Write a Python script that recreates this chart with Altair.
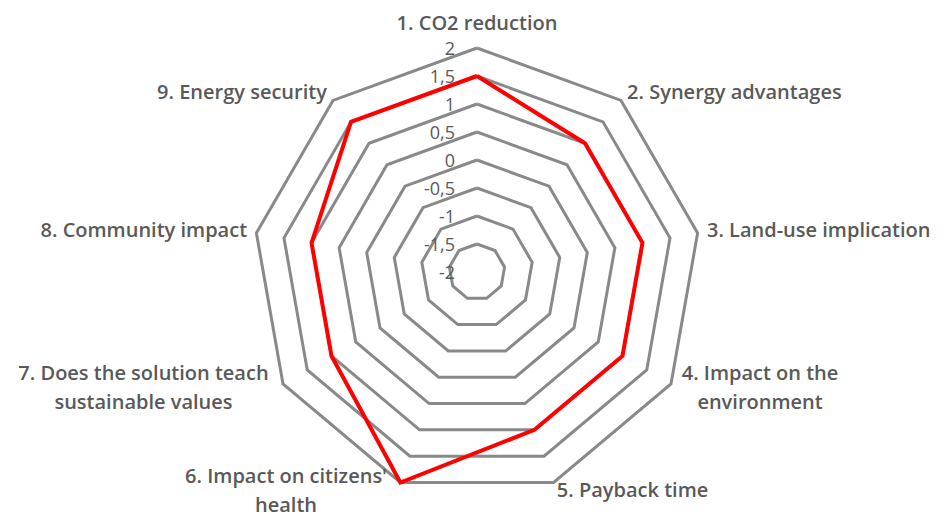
import altair as alt
import pandas as pd

# ---------------- data ----------------
categories = [
    "1. CO2 reduction", "2. Synergy advantages", "3. Land-use implication",
    "4. Impact on the environment", "5. Payback time",
    "6. Impact on citizens' health", "7. Does the solution teach sustainable values",
    "8. Community impact", "9. Energy security",
]
label_lines = [
    ["1. CO2 reduction"],
    ["2. Synergy advantages"],
    ["3. Land-use implication"],
    ["4. Impact on the", "environment"],
    ["5. Payback time"],
    ["6. Impact on citizens'", "health"],
    ["7. Does the solution teach", "sustainable values"],
    ["8. Community impact"],
    ["9. Energy security"],
]
values = [1.5, 1, 1, 1, 1, 2, 1, 1, 1.5]
levels = [-2, -1.5, -1, -0.5, 0, 0.5, 1, 1.5, 2]
level_labels = ["-2", "-1,5", "-1", "-0,5", "0", "0,5", "1", "1,5", "2"]

# ---------------- layout constants ----------------
N = len(categories)
VMIN, VMAX = -2.0, 2.0
W, H = 928, 506          # plot area (page margin 8px)
CX, CY = 469, 264        # centre of the radar inside the plot area
R = 224                  # outer radius in px
OFF = 9.5                # gap between outer ring and category labels (px)
CHARW = 10.1             # approx. width of one label character (px)
LH = 29                  # label line height (px)

xdom = [-CX / R, (W - CX) / R]
ydom = [-(H - CY) / R, CY / R]
xs = alt.Scale(domain=xdom, nice=False, zero=False)
ys = alt.Scale(domain=ydom, nice=False, zero=False)
X = alt.X("x:Q", scale=xs, axis=None)
Y = alt.Y("y:Q", scale=ys, axis=None)

ang_expr = f"datum.idx * 2 * PI / {N}"
rad_expr = f"(datum.v - ({VMIN})) / ({VMAX - VMIN})"

# rings
ring_rows = [{"v": lv, "idx": i} for lv in levels for i in range(N + 1)]
ring_df = pd.DataFrame(ring_rows)

# series
ser_df = pd.DataFrame({"idx": list(range(N + 1)),
                       "v": [values[i % N] for i in range(N + 1)],
                       "category": [categories[i % N] for i in range(N + 1)]})

# category labels
lab_df = pd.DataFrame({
    "idx": list(range(N)),
    "text": ["\n".join(l) for l in label_lines],
    "nlines": [len(l) for l in label_lines],
    "maxlen": [max(len(s) for s in l) for l in label_lines],
})

# tick labels
tick_df = pd.DataFrame({"v": levels, "label": level_labels})


def polar(ch):
    return ch.transform_calculate(
        ang=ang_expr, r=rad_expr
    ).transform_calculate(
        x="datum.r * sin(datum.ang)", y="datum.r * cos(datum.ang)"
    )


rings = polar(alt.Chart(ring_df)).mark_line(
    color="#898989", strokeWidth=3, strokeJoin="miter"
).encode(x=X, y=Y, detail="v:N", order="idx:Q")

series = polar(alt.Chart(ser_df)).mark_line(
    color="#FF0000", strokeWidth=4, strokeJoin="miter"
).encode(x=X, y=Y, order="idx:Q")

ticks = alt.Chart(tick_df).transform_calculate(
    r=rad_expr
).transform_calculate(x="0", y="datum.r").mark_text(
    align="right", baseline="middle", dx=-22, dy=2,
    font="Open Sans", fontSize=18, color="#595959"
).encode(x=X, y=Y, text="label:N")

lab_base = alt.Chart(lab_df).transform_calculate(
    ang=ang_expr
).transform_calculate(
    s="sin(datum.ang)", c="cos(datum.ang)"
).transform_calculate(
    ax=f"datum.s * (1 + {OFF}/{R})", y=f"datum.c * (1 + {OFF}/{R})"
).transform_calculate(
    x=f"datum.nlines > 1 ? datum.ax + (datum.s > 0 ? 1 : -1) * datum.maxlen * {CHARW} / (2 * {R}) : datum.ax"
)

txt = dict(font="Open Sans", fontSize=20, fontWeight=600, color="#595959",
           lineBreak="\n", lineHeight=LH)

lab_top = lab_base.transform_filter("abs(datum.s) < 0.01").mark_text(
    align="center", baseline="alphabetic", dy=-9, **txt
).encode(x=X, y=Y, text="text:N")
lab_right = lab_base.transform_filter("datum.s >= 0.01 && datum.nlines == 1").mark_text(
    align="left", baseline="middle", **txt
).encode(x=X, y=Y, text="text:N")
lab_left = lab_base.transform_filter("datum.s <= -0.01 && datum.nlines == 1").mark_text(
    align="right", baseline="middle", **txt
).encode(x=X, y=Y, text="text:N")
lab_multi = lab_base.transform_filter("datum.nlines > 1").mark_text(
    align="center", baseline="middle", dy=-LH / 2, **txt
).encode(x=X, y=Y, text="text:N")

chart = alt.layer(rings, series, ticks, lab_top, lab_right, lab_left, lab_multi).properties(
    width=W, height=H, autosize="none", padding=0, background="white"
).configure_view(stroke=None)

chart.save("out.html", embed_options={"renderer": "svg", "actions": False})
